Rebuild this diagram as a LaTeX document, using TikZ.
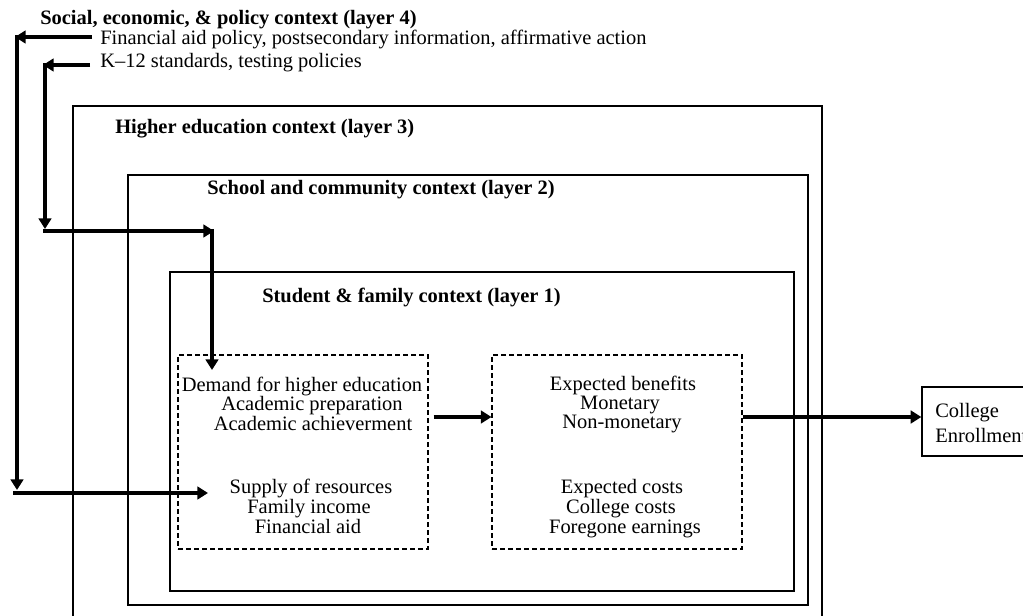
\documentclass[tikz,border=0pt]{standalone}
\usepackage{fontspec}
\setmainfont{Liberation Serif}
\usetikzlibrary{arrows.meta,fit}
\begin{document}
\begin{tikzpicture}[x=0.75pt,y=-0.75pt,
  every node/.style={font=\fontsize{15.35}{14.6}\selectfont, inner sep=0pt},
  lay/.style={draw, line width=1pt, inner sep=0pt},
  dbox/.style={draw, dash pattern=on 3.5pt off 2.5pt, line width=0.8pt, inner sep=0pt},
  arr/.style={line width=3pt, -{Triangle[length=8pt,width=9.5pt]}},
  ttl/.style={anchor=base west, font=\fontsize{15.35}{14.6}\selectfont\bfseries},
  txt/.style={anchor=base west},
  ctr/.style={anchor=base}
]
\useasboundingbox (0,0) rectangle (1023,616);
\clip (0,0) rectangle (1023,616);

% layer boxes
\node[lay, fit={(73,106) (822,640)}] (L3) {};
\node[lay, fit={(128,175) (808,605)}] (L2) {};
\node[lay, fit={(170,272) (794,591)}] (L1) {};
\node[dbox, fit={(178,355) (428,549)}] (D1) {};
\node[dbox, fit={(492,355) (742,549)}] (D2) {};
\node[lay, fit={(922,387) (1060,456)}] (CE) {};

% titles
\node[ttl] (t4) at (40,25) {Social, economic, \& policy context (layer 4)};
\node[txt] (t4a) at (100,45) {Financial aid policy, postsecondary information, affirmative action};
\node[txt] (t4b) at (100,68) {K--12 standards, testing policies};
\node[ttl] (t3) at (115,134) {Higher education context (layer 3)};
\node[ttl] (t2) at (207,195) {School and community context (layer 2)};
\node[ttl] (t1) at (262,302) {Student \& family context (layer 1)};

% box 1 text
\node[ctr] (d1a) at (302,391) {Demand for higher education};
\node[ctr] (d1b) at (312,410) {Academic preparation};
\node[ctr] (d1c) at (313,430) {Academic achieverment};
\node[ctr] (d1d) at (311,493) {Supply of resources};
\node[ctr] (d1e) at (309,513) {Family income};
\node[ctr] (d1f) at (308,533) {Financial aid};

% box 2 text
\node[ctr] (d2a) at (623,390) {Expected benefits};
\node[ctr] (d2b) at (620,409) {Monetary};
\node[ctr] (d2c) at (622,428) {Non-monetary};
\node[ctr] (d2d) at (622,493) {Expected costs};
\node[ctr] (d2e) at (621,513) {College costs};
\node[ctr] (d2f) at (625,533) {Foregone earnings};

% college enrollment
\node[txt] (ce1) at (935,417) {College};
\node[txt] (ce2) at (935,442) {Enrollment};

% connector coordinates
\coordinate (p1s) at (92,37);
\coordinate (p1e) at (15,37);
\coordinate (v1t) at (17,35);
\coordinate (v1b) at (17,490);
\coordinate (h1s) at (13,493);
\coordinate (h1e) at (208,493);
\coordinate (p2s) at (90,65);
\coordinate (p2e) at (43,65);
\coordinate (v2t) at (45,63);
\coordinate (v2b) at (45,229);
\coordinate (h2s) at (43,231);
\coordinate (h2e) at (214,231);
\coordinate (v3t) at (212,229);
\coordinate (v3b) at (212,370);
\coordinate (y417) at (0,417);
\coordinate (b1) at ([xshift=3.75pt]D1.east);

\draw[arr] (p1s) -- (p1e);
\draw[arr] (v1t) -- (v1b);
\draw[arr] (h1s) -- (h1e);
\draw[arr] (p2s) -- (p2e);
\draw[arr] (v2t) -- (v2b);
\draw[arr] (h2s) -- (h2e);
\draw[arr] (v3t) -- (v3b);
\draw[arr] (b1 |- y417) -- (D2.west |- y417);
\draw[arr] (D2.east |- y417) -- (CE.west |- y417);
\end{tikzpicture}
\end{document}
